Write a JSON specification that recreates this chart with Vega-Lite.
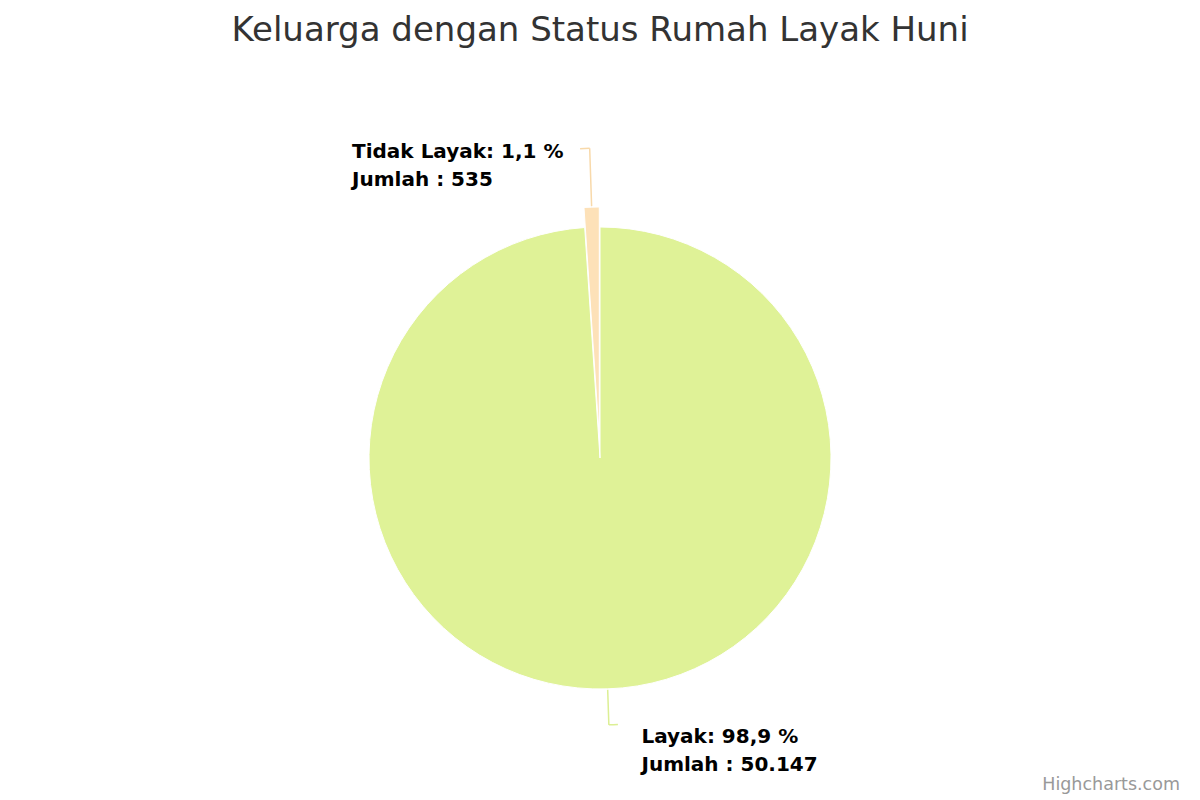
{
  "$schema": "https://vega.github.io/schema/vega-lite/v6.json",
  "width": 1200,
  "height": 684,
  "autosize": {"type": "none"},
  "padding": {"top": 116, "left": 0, "right": 0, "bottom": 0},
  "background": "#ffffff",
  "config": {"view": {"stroke": null}},
  "title": {
    "text": "Keluarga dengan Status Rumah Layak Huni",
    "font": "DejaVu Sans",
    "fontSize": 34,
    "fontWeight": "normal",
    "color": "#333333",
    "anchor": "middle",
    "frame": "group",
    "baseline": "alphabetic",
    "offset": 41
  },
  "datasets": {
    "pie": [
      {"Status": "Layak", "Jumlah": 50147, "label": ["Layak: 98,9 %", "Jumlah : 50.147"]},
      {"Status": "Tidak Layak", "Jumlah": 535, "label": ["Tidak Layak: 1,1 %", "Jumlah : 535"]}
    ],
    "credit": [{"t": "Highcharts.com"}]
  },
  "layer": [
    {
      "data": {"name": "pie"},
      "transform": [
        {"stack": "Jumlah", "groupby": [], "sort": [{"field": "Status", "order": "ascending"}], "as": ["s0", "s1"]},
        {"filter": "datum.Status == 'Layak'"}
      ],
      "mark": {"type": "arc", "outerRadius": 231, "stroke": "#ffffff", "strokeWidth": 1},
      "encoding": {
        "theta": {"field": "s0", "type": "quantitative", "scale": {"domain": [0, 50682]}},
        "theta2": {"field": "s1"},
        "color": {"value": "#dff297"}
      }
    },
    {
      "data": {"name": "pie"},
      "transform": [
        {"stack": "Jumlah", "groupby": [], "sort": [{"field": "Status", "order": "ascending"}], "as": ["s0", "s1"]},
        {"filter": "datum.Status == 'Tidak Layak'"}
      ],
      "mark": {"type": "arc", "outerRadius": 231, "stroke": "#ffffff", "strokeWidth": 1, "yOffset": -20, "xOffset": -0.7},
      "encoding": {
        "theta": {"field": "s0", "type": "quantitative"},
        "theta2": {"field": "s1"},
        "color": {"value": "#fde1b8"}
      }
    },
    {
      "data": {"name": "pie"},
      "transform": [
        {"stack": "Jumlah", "groupby": [], "sort": [{"field": "Status", "order": "ascending"}], "as": ["s0", "s1"]},
        {"fold": ["s0", "s1"], "as": ["k", "v"]},
        {"aggregate": [{"op": "mean", "field": "v", "as": "mid"}, {"op": "min", "field": "v", "as": "lo"}], "groupby": ["Status"]},
        {"filter": "datum.Status == 'Tidak Layak'"}
      ],
      "layer": [
        {
          "mark": {"type": "arc", "filled": false, "innerRadius": 232, "outerRadius": 290, "stroke": "#f8d9aa", "strokeWidth": 1.5, "yOffset": -20, "xOffset": -0.7},
          "encoding": {
            "theta": {"field": "mid", "type": "quantitative"},
            "theta2": {"field": "mid"}
          }
        },
        {
          "mark": {"type": "arc", "filled": false, "innerRadius": 290, "outerRadius": 290, "stroke": "#f8d9aa", "strokeWidth": 1.5, "yOffset": -20, "xOffset": -0.7},
          "encoding": {
            "theta": {"field": "lo", "type": "quantitative"},
            "theta2": {"field": "mid"}
          }
        }
      ]
    },
    {
      "data": {"name": "pie"},
      "transform": [
        {"stack": "Jumlah", "groupby": [], "sort": [{"field": "Status", "order": "ascending"}], "as": ["s0", "s1"]},
        {"fold": ["s0", "s1"], "as": ["k", "v"]},
        {"aggregate": [{"op": "mean", "field": "v", "as": "mid"}], "groupby": ["Status"]},
        {"filter": "datum.Status == 'Layak'"}
      ],
      "layer": [
        {
          "mark": {"type": "arc", "filled": false, "innerRadius": 232, "outerRadius": 267, "stroke": "#dcef94", "strokeWidth": 1.5},
          "encoding": {
            "theta": {"field": "mid", "type": "quantitative"},
            "theta2": {"field": "mid"}
          }
        },
        {
          "mark": {"type": "arc", "filled": false, "innerRadius": 267, "outerRadius": 267, "stroke": "#dcef94", "strokeWidth": 1.5, "thetaOffset": -0.034},
          "encoding": {
            "theta": {"field": "mid", "type": "quantitative"},
            "theta2": {"field": "mid"}
          }
        }
      ]
    },
    {
      "data": {"name": "pie"},
      "mark": {
        "type": "text",
        "font": "DejaVu Sans",
        "fontSize": 20,
        "fontWeight": "bold",
        "color": "#000000",
        "align": "left",
        "baseline": "alphabetic",
        "lineHeight": 28,
        "radius": {"expr": "datum.Status == 'Layak' ? 285 : 300"},
        "dx": {"expr": "datum.Status == 'Layak' ? 32 : -238"}
      },
      "encoding": {
        "theta": {"field": "Jumlah", "type": "quantitative", "stack": true},
        "detail": {"field": "Status"},
        "order": {"field": "Status"},
        "text": {"field": "label"}
      }
    },
    {
      "data": {"name": "credit"},
      "mark": {
        "type": "text",
        "font": "DejaVu Sans",
        "fontSize": 17.5,
        "color": "#999999",
        "align": "right",
        "baseline": "alphabetic",
        "dx": -20,
        "dy": -10
      },
      "encoding": {
        "x": {"value": "width"},
        "y": {"value": "height"},
        "text": {"field": "t"}
      }
    }
  ]
}
